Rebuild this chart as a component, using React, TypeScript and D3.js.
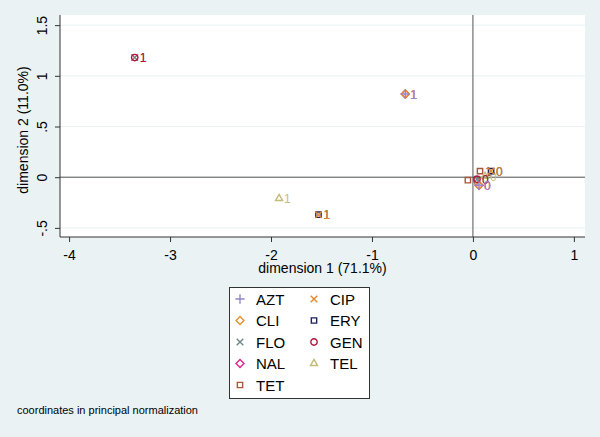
import React, { useEffect, useRef } from 'react';
import * as d3 from 'd3';

// variables (legend order) and their marker styles
const variables = ['AZT', 'CIP', 'CLI', 'ERY', 'FLO', 'GEN', 'NAL', 'TEL', 'TET'];
const colors = ['#9486c8', '#e0882a', '#e8902c', '#1c2260', '#6e8888', '#b3123c', '#e0248c', '#c4bb7c', '#a8573a'];
const shapes = ['plus', 'x', 'diamond', 'square', 'x', 'circle', 'diamond', 'triangle', 'square'];

// coordinates of category 0 and 1 for each variable
const dim1Cat0 = [0.06, 0.18, 0.06, 0.18, 0.04, 0.04, 0.06, 0.12, -0.05];
const dim2Cat0 = [-0.08, 0.06, -0.08, 0.06, -0.02, -0.02, -0.08, 0.01, -0.03];
const dim1Cat1 = [-0.67, -1.53, -0.67, -1.53, -3.35, -3.35, -0.67, -1.92, 0.07];
const dim2Cat1 = [0.82, -0.37, 0.82, -0.37, 1.18, 1.18, 0.82, -0.21, 0.06];

const xTicks = [-4, -3, -2, -1, 0, 1];
const yTicks = [-0.5, 0, 0.5, 1, 1.5];
const yTickLabels = ['-.5', '0', '.5', '1', '1.5'];

// drawing order so the visible labels on top match
const drawOrder = ['TET', 'TEL', 'NAL', 'CLI', 'FLO', 'GEN', 'ERY', 'CIP', 'AZT'];

const symbolFor = (s: string) => {
  switch (s) {
    case 'plus': return d3.symbol(d3.symbolPlus, 30);
    case 'x': return d3.symbol(d3.symbolX, 30);
    case 'diamond': return d3.symbol(d3.symbolDiamond2, 40);
    case 'square': return d3.symbol(d3.symbolSquare2, 36);
    case 'triangle': return d3.symbol(d3.symbolTriangle2, 36);
    default: return d3.symbol(d3.symbolCircle, 32);
  }
};

const App = () => {
  const ref = useRef<SVGSVGElement>(null);

  useEffect(() => {
    const svg = d3.select(ref.current);
    svg.selectAll('*').remove();
    const font = 'Liberation Sans, Arial, sans-serif';

    const W = 600, H = 437;
    svg.append('rect').attr('width', W).attr('height', H).attr('fill', '#eaf2f3');

    const left = 60, right = 585, top = 15, bottom = 237;
    const x = d3.scaleLinear().domain([-4.09, 1.11]).range([left, right]);
    const y = d3.scaleLinear().domain([-0.59, 1.6]).range([bottom, top]);

    svg.append('rect').attr('x', left).attr('y', top)
      .attr('width', right - left).attr('height', bottom - top).attr('fill', '#fff');

    // grid lines
    svg.append('g').selectAll('line').data(yTicks).enter().append('line')
      .attr('x1', left).attr('x2', right)
      .attr('y1', d => y(d)).attr('y2', d => y(d))
      .attr('stroke', '#eaf2f3').attr('stroke-width', 1);

    // reference lines at 0
    svg.append('line').attr('x1', x(0)).attr('x2', x(0)).attr('y1', top).attr('y2', bottom)
      .attr('stroke', '#555').attr('stroke-width', 1);
    svg.append('line').attr('x1', left).attr('x2', right).attr('y1', y(0)).attr('y2', y(0))
      .attr('stroke', '#555').attr('stroke-width', 1);

    // axes
    const xAxis = svg.append('g').attr('transform', `translate(0,${bottom})`)
      .call(d3.axisBottom(x).tickValues(xTicks).tickSize(5).tickPadding(5).tickFormat(d => String(d)));
    xAxis.select('.domain').attr('d', `M${left},0H${right}`);
    const yAxis = svg.append('g').attr('transform', `translate(${left},0)`)
      .call(d3.axisLeft(y).tickValues(yTicks).tickSize(5).tickFormat((d, i) => yTickLabels[i]));
    yAxis.select('.domain').attr('d', `M0,${top}V${bottom}`);
    [xAxis, yAxis].forEach(a => {
      a.selectAll('path,line').attr('stroke', '#333');
      a.selectAll('text').attr('font-family', font).attr('font-size', 14).attr('fill', '#000');
    });
    yAxis.selectAll('text')
      .attr('x', null).attr('dy', null).attr('y', 0).attr('text-anchor', 'middle')
      .attr('transform', 'translate(-13,0) rotate(-90)');
    xAxis.selectAll('text').attr('dy', '0.9em');

    svg.append('text').attr('x', (left + right) / 2).attr('y', 273)
      .attr('text-anchor', 'middle').attr('font-family', font).attr('font-size', 14)
      .text('dimension 1 (71.1%)');
    svg.append('text').attr('transform', `translate(28,${(top + bottom) / 2 + 4}) rotate(-90)`)
      .attr('text-anchor', 'middle').attr('font-family', font).attr('font-size', 14)
      .text('dimension 2 (11.0%)');

    // points
    const pts = svg.append('g');
    drawOrder.forEach(v => {
      const i = variables.indexOf(v);
      const cats = [
        { lab: '0', px: dim1Cat0[i], py: dim2Cat0[i] },
        { lab: '1', px: dim1Cat1[i], py: dim2Cat1[i] },
      ];
      cats.forEach(c => {
        pts.append('path').attr('d', symbolFor(shapes[i])()!)
          .attr('transform', `translate(${x(c.px)},${y(c.py)})`)
          .attr('fill', 'none').attr('stroke', colors[i]).attr('stroke-width', 1.4);
        pts.append('text').attr('x', x(c.px) + 5).attr('y', y(c.py) + 4.5)
          .attr('font-family', font).attr('font-size', 12).attr('fill', colors[i])
          .text(c.lab);
      });
    });

    // legend
    const lg = svg.append('g');
    lg.append('rect').attr('x', 229.5).attr('y', 287.5).attr('width', 140).attr('height', 111)
      .attr('fill', '#fff').attr('stroke', '#333').attr('stroke-width', 1);
    variables.forEach((v, i) => {
      const col = i % 2, row = Math.floor(i / 2);
      const sx = 240 + col * 74, sy = 299 + row * 21.5;
      lg.append('path').attr('d', symbolFor(shapes[i])()!)
        .attr('transform', `translate(${sx},${sy})`)
        .attr('fill', 'none').attr('stroke', colors[i]).attr('stroke-width', 1.4);
      lg.append('text').attr('x', sx + 16).attr('y', sy + 5.5)
        .attr('font-family', font).attr('font-size', 15).text(v);
    });

    svg.append('text').attr('x', 17).attr('y', 414)
      .attr('font-family', font).attr('font-size', 11)
      .text('coordinates in principal normalization');
  }, []);

  return <svg ref={ref} width={600} height={437} style={{ position: 'absolute', left: 0, top: 0 }} />;
};

export default App;
